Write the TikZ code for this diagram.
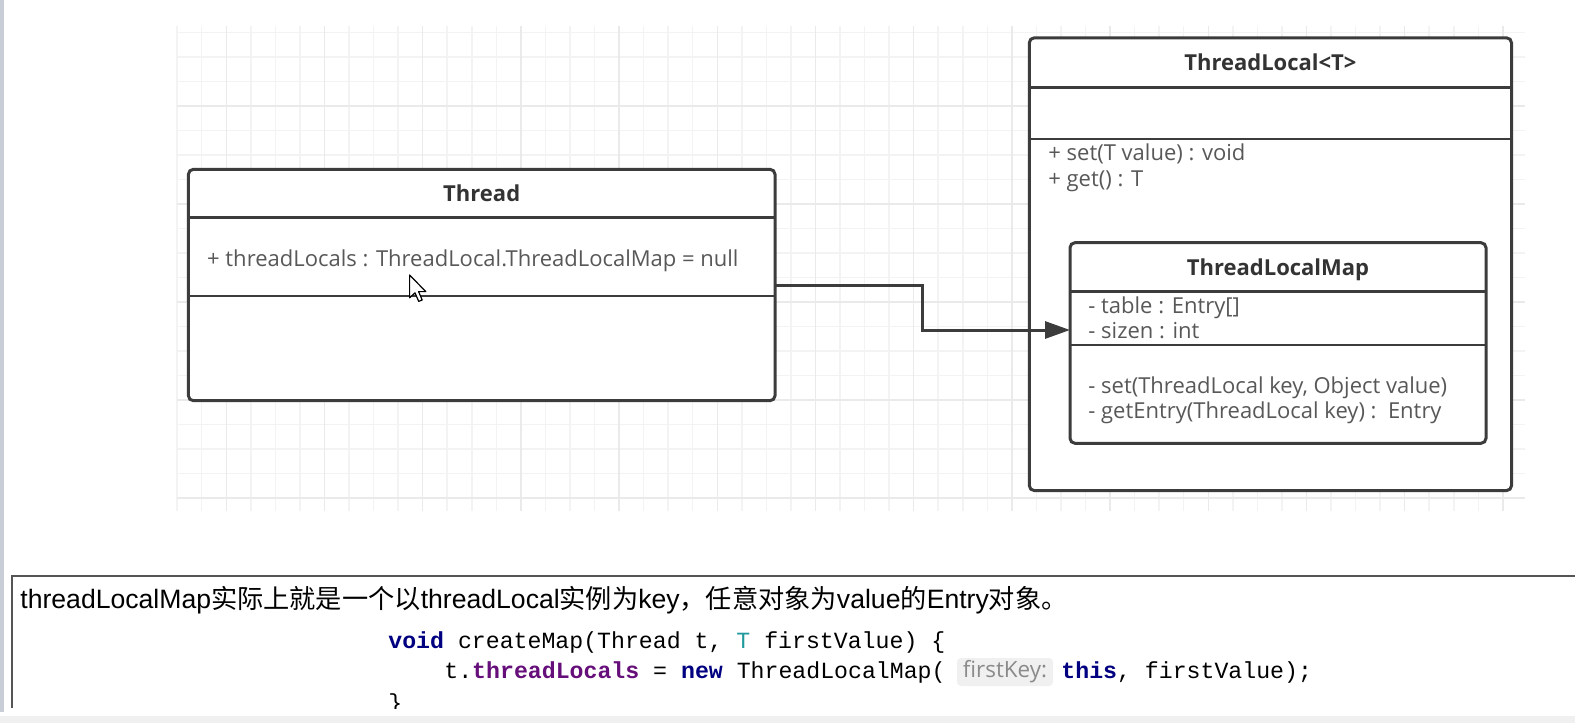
\documentclass[tikz,border=0pt]{standalone}
\usepackage{fontspec}
\setmainfont{Open Sans}
\newfontfamily\cjk[Scale=0.985]{Noto Sans CJK SC}
\newfontfamily\sentlat{Liberation Sans}
\newfontfamily\codefont{Liberation Mono}
\usetikzlibrary{arrows.meta}
\definecolor{boxline}{HTML}{3C3C3C}
\definecolor{membertxt}{HTML}{585858}
\definecolor{titletxt}{HTML}{333333}
\definecolor{gridminor}{HTML}{F3F3F3}
\definecolor{gridmajor}{HTML}{EAEAEA}
\definecolor{kw}{HTML}{000080}
\definecolor{tparam}{HTML}{20999D}
\definecolor{fld}{HTML}{660E7A}
\definecolor{hintbg}{HTML}{F0F0F0}
\definecolor{hinttxt}{HTML}{8A8A8A}
\definecolor{sidebar}{HTML}{C8CDD6}
\definecolor{strip}{HTML}{F0F0F0}
\definecolor{frameline}{HTML}{555555}
\begin{document}
\begin{tikzpicture}[x=0.5pt,y=-0.5pt,
  umlbox/.style={draw=boxline, fill=white, line width=1.5pt, rounded corners=2.5pt,
    inner sep=0pt, outer sep=0pt, anchor=north west},
  divider/.style={draw=boxline, line width=1.3pt},
  title/.style={inner sep=0pt, anchor=base, text=titletxt, font={\fontsize{11}{13}\selectfont\bfseries}},
  member/.style={inner sep=0pt, anchor=base west, text=membertxt, font={\fontsize{11}{13}\selectfont}},
  code/.style={inner sep=0pt, anchor=base west, text=black, font={\codefont\fontsize{11.6}{14}\selectfont}},
  hint/.style={fill=hintbg, rounded corners=2pt, inner sep=0pt, minimum width=48pt, minimum height=14pt,
    text=hinttxt, font={\fontsize{11.2}{13}\selectfont}},
  assoc/.style={draw=boxline, line width=1.5pt, -{Triangle[length=12.5pt,width=8.5pt]}},
  gminor/.style={draw=gridminor, line width=0.75pt},
  gmajor/.style={draw=gridmajor, line width=0.75pt}]
\useasboundingbox (0,0) rectangle (1575,723);
\fill[white] (0,0) rectangle (1575,723);
% side bar and bottom strip
\fill[sidebar] (0,0) rectangle (3.5,712);
\fill[strip] (0,716) rectangle (1575,723);
% grid
\foreach \k in {0,...,54}{\draw[gminor] ({177.15+24.55*\k},26) -- ({177.15+24.55*\k},510.7);}
\foreach \j in {0,...,19}{\draw[gminor] (177.15,{32.3+24.5*\j}) -- (1525,{32.3+24.5*\j});}
\foreach \k in {2,6,...,54}{\draw[gmajor] ({177.15+24.55*\k},26) -- ({177.15+24.55*\k},510.7);}
\foreach \j in {3,7,...,19}{\draw[gmajor] (177.15,{32.3+24.5*\j}) -- (1525,{32.3+24.5*\j});}

% Thread class
\node[umlbox, minimum width=293.3pt, minimum height=115.7pt] (thread) at (188.4,169.3) {};
\draw[divider] (thread.west |- 0,217.3) -- (thread.east |- 0,217.3);
\draw[divider] (thread.west |- 0,296) -- (thread.east |- 0,296);
\node[title] (threadtitle) at (481.7,201.7) {Thread};
\node[member] (threadattr) at (206.8,266) {+ threadLocals : ThreadLocal.ThreadLocalMap = null};

% ThreadLocal class
\node[umlbox, minimum width=241.1pt, minimum height=226.4pt] (tl) at (1029.3,37.8) {};
\draw[divider] (tl.west |- 0,87.3) -- (tl.east |- 0,87.3);
\draw[divider] (tl.west |- 0,139) -- (tl.east |- 0,139);
\node[title] (tltitle) at (1270.4,70.7) {ThreadLocal<T>};
\node[member] (tlset) at (1048,160) {+ set(T value) : void};
\node[member] (tlget) at (1048,186.7) {+ get() : T};

% ThreadLocalMap class
\node[umlbox, minimum width=208pt, minimum height=100.3pt] (tlm) at (1070,242.7) {};
\draw[divider] (tlm.west |- 0,291.7) -- (tlm.east |- 0,291.7);
\draw[divider] (tlm.west |- 0,345) -- (tlm.east |- 0,345);
\node[title] (tlmtitle) at (1278,275) {ThreadLocalMap};
\node[member] (tlmtable) at (1088,313.3) {- table : Entry[]};
\node[member] (tlmsize) at (1088,338.5) {- sizen : int};
\node[member] (tlmset) at (1088,393) {- set(ThreadLocal key, Object value)};
\node[member] (tlmget) at (1088,418) {- getEntry(ThreadLocal key) :\ \ Entry};

% association arrow
\coordinate (bend) at (922.7,330);
\draw[assoc] (thread.east) -| (bend) -- (bend -| tlm.west);

% mouse cursor
\draw[fill=white, draw=black, line width=0.6pt, line join=round]
  (409.6,275) -- ++(0,22.8) -- ++(5.4,-5) -- ++(3.7,8.6) -- ++(3.5,-1.4) -- ++(-3.6,-8.4) -- ++(7.2,0) -- cycle;

% bottom text panel
\draw[draw=frameline, line width=1pt] (11.7,708) -- (11.7,575.7) -- (1575,575.7);
\node[inner sep=0pt, anchor=base west, text=black, font={\sentlat\fontsize{13.3}{16}\selectfont}] (sentence) at (20,608)
  {threadLocalMap{\cjk 实际上就是一个以}threadLocal{\cjk 实例为}key{\cjk ，任意对象为}value{\cjk 的}Entry{\cjk 对象。}};
\node[code] (code1) at (388,648) {\textcolor{kw}{\bfseries void} createMap(Thread t, \textcolor{tparam}{T} firstValue) \{};
\node[code] (code2a) at (444,678) {t.\textcolor{fld}{\bfseries threadLocals} = \textcolor{kw}{\bfseries new} ThreadLocalMap(};
\node[hint] (hint) at (1005,672) {firstKey:};
\node[code] (code2b) at (1061,678) {\textcolor{kw}{\bfseries this}, firstValue);};
\begin{scope}
\clip (0,0) rectangle (1575,708);
\node[code] (code3) at (388,710) {\}};
\end{scope}
\end{tikzpicture}
\end{document}
